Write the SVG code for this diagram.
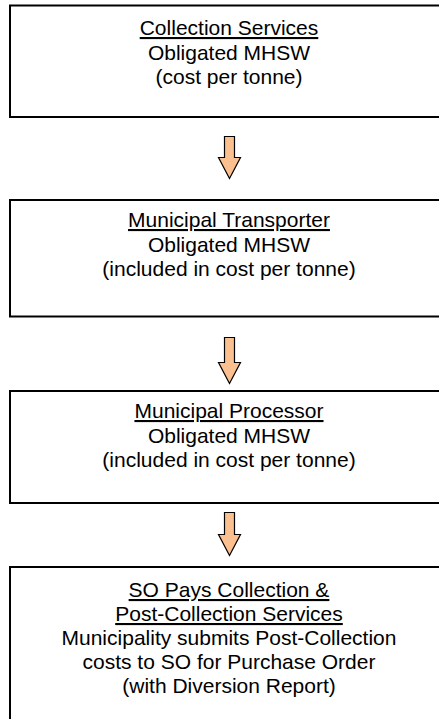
<svg xmlns="http://www.w3.org/2000/svg" width="439" height="719" viewBox="0 0 439 719">
<style>
.box{fill:#ffffff;stroke:#000000;stroke-width:2}
.t{font-family:"Liberation Sans",Arial,sans-serif;font-size:21px;fill:#000000;text-anchor:middle}
.u{text-decoration:underline}
.arr{fill:#fac090;stroke:#000000;stroke-width:1.2;stroke-linejoin:miter}
</style>
<rect width="439" height="719" fill="#ffffff"/>
<g id="connectors">
<path class="arr" d="M224.5,136.5 H234.5 V157.5 H240.5 L229.5,178.5 L218.5,157.5 H224.5 Z"/>
<path class="arr" d="M224.5,337.5 H234.5 V362.5 H240.5 L229.5,383.5 L218.5,362.5 H224.5 Z"/>
<path class="arr" d="M224.5,512.5 H234.5 V534.5 H240.5 L229.5,555.5 L218.5,534.5 H224.5 Z"/>
</g>
<g id="node1">
<rect class="box" x="10" y="5.5" width="460" height="111.5"/>
<text class="t" x="229" y="35"><tspan class="u">Collection Services</tspan><tspan x="229" dy="25">Obligated MHSW</tspan><tspan x="229" dy="24">(cost per tonne)</tspan></text>
</g>
<g id="node2">
<rect class="box" x="10" y="200" width="460" height="116.5"/>
<text class="t" x="229" y="227"><tspan class="u">Municipal Transporter</tspan><tspan x="229" dy="25">Obligated MHSW</tspan><tspan x="229" dy="24">(included in cost per tonne)</tspan></text>
</g>
<g id="node3">
<rect class="box" x="10" y="391" width="460" height="112"/>
<text class="t" x="229" y="418"><tspan class="u">Municipal Processor</tspan><tspan x="229" dy="25">Obligated MHSW</tspan><tspan x="229" dy="24">(included in cost per tonne)</tspan></text>
</g>
<g id="node4">
<rect class="box" x="10" y="567" width="460" height="200"/>
<text class="t" x="229" y="597"><tspan class="u">SO Pays Collection &amp;</tspan><tspan x="229" dy="24" class="u">Post-Collection Services</tspan><tspan x="229" dy="24">Municipality submits Post-Collection</tspan><tspan x="229" dy="24">costs to SO for Purchase Order</tspan><tspan x="229" dy="24">(with Diversion Report)</tspan></text>
</g>
</svg>
